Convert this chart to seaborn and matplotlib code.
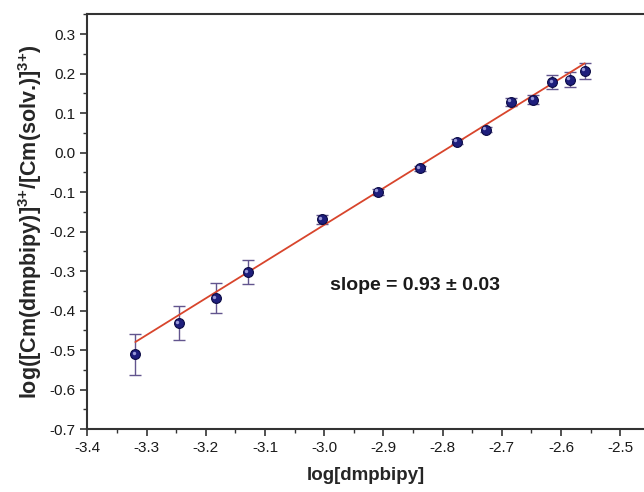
import numpy as np
import pandas as pd
import matplotlib
matplotlib.use('Agg')
import matplotlib.pyplot as plt
from matplotlib.ticker import MultipleLocator, FormatStrFormatter
from matplotlib.transforms import offset_copy
import seaborn as sns

# values
log_dmpbipy = [-3.319, -3.245, -3.183, -3.129, -3.004, -2.909, -2.838,
               -2.776, -2.727, -2.685, -2.647, -2.615, -2.585, -2.560]
log_ratio = [-0.511, -0.432, -0.369, -0.303, -0.169, -0.099, -0.040,
             0.028, 0.058, 0.129, 0.134, 0.178, 0.185, 0.207]
ratio_err = [0.051, 0.043, 0.038, 0.030, 0.012, 0.008, 0.006,
             0.006, 0.006, 0.010, 0.012, 0.018, 0.018, 0.021]
fit_slope = 0.93
fit_intercept = 2.607
slope_text = 'slope = 0.93 \u00b1 0.03'

df = pd.DataFrame({'x': log_dmpbipy, 'y': log_ratio, 'err': ratio_err})
xfit = np.array([min(log_dmpbipy), max(log_dmpbipy)])
fit = pd.DataFrame({'x': xfit, 'y': fit_slope * xfit + fit_intercept})

sns.set_theme(style='ticks')
plt.rcParams['font.family'] = ['Liberation Sans', 'DejaVu Sans']
plt.rcParams['mathtext.fontset'] = 'custom'
plt.rcParams['mathtext.rm'] = 'Liberation Sans'
plt.rcParams['mathtext.bf'] = 'Liberation Sans:bold'

fig = plt.figure(figsize=(6.44, 4.92), dpi=100)
ax = fig.add_axes([0.1356, 0.128, 0.8644, 0.8435])

ax.errorbar(df['x'], df['y'], yerr=df['err'], fmt='none', ecolor='#62558e',
            elinewidth=1.0, capsize=4, capthick=1.0, zorder=2)
sns.lineplot(data=fit, x='x', y='y', ax=ax, color='#d8452c', lw=1.3, zorder=3)
sns.scatterplot(data=df, x='x', y='y', ax=ax, s=50, color='#1e1e7c',
                edgecolor='#0b0b45', linewidth=0.8, zorder=4)
# small highlight to mimic the shaded spheres
hl = offset_copy(ax.transData, fig=fig, x=-1.2, y=1.2, units='points')
ax.scatter(df['x'], df['y'], s=6, color='#9a9ad8', linewidth=0,
           transform=hl, zorder=5)

ax.set_xlim(-3.4, -2.46)
ax.set_ylim(-0.7, 0.351)
ax.xaxis.set_major_locator(MultipleLocator(0.1))
ax.xaxis.set_minor_locator(MultipleLocator(0.05))
ax.yaxis.set_major_locator(MultipleLocator(0.1))
ax.yaxis.set_minor_locator(MultipleLocator(0.05))
ax.xaxis.set_major_formatter(FormatStrFormatter('%.1f'))
ax.yaxis.set_major_formatter(FormatStrFormatter('%.1f'))
ax.tick_params(which='major', direction='out', length=5, width=1.2,
               colors='#333333', labelsize=11, labelcolor='#1a1a1a')
ax.tick_params(which='minor', direction='out', length=3, width=1.0, colors='#333333')
ax.tick_params(top=False, right=False, which='both')

for side in ['left', 'bottom', 'top']:
    ax.spines[side].set_linewidth(1.5)
    ax.spines[side].set_color('#333333')
ax.spines['right'].set_visible(False)

ax.set_xlabel('log[dmpbipy]', fontsize=13.5, fontweight='bold', labelpad=9)
ax.set_ylabel('log([Cm(dmpbipy)]$^{\\mathbf{3{+}}}$/[Cm(solv.)]$^{\\mathbf{3{+}}}$)',
              fontsize=15.5, fontweight='bold', labelpad=4)

ax.text(-2.99, -0.336, slope_text, fontsize=14, fontweight='bold',
        ha='left', va='center', color='#1a1a1a')

fig.savefig('out.png', dpi=100)
